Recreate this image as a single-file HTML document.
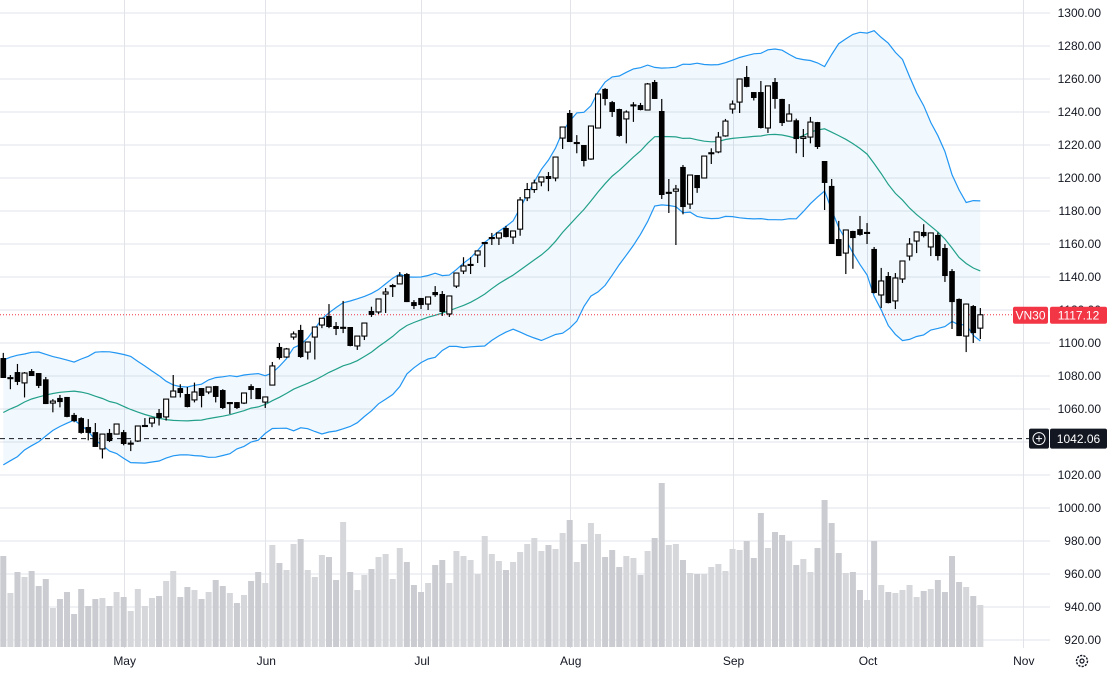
<!DOCTYPE html>
<html><head><meta charset="utf-8">
<style>
html,body{margin:0;padding:0;background:#fff;width:1108px;height:673px;overflow:hidden;font-family:"Liberation Sans",sans-serif;}
svg text{font-family:"Liberation Sans",sans-serif;}
</style></head>
<body>
<svg id="chart" width="1108" height="673" xmlns="http://www.w3.org/2000/svg"></svg>
<script>
const opens=[1090.9,1078.8,1082.4,1075.8,1083,1081.8,1078,1063.6,1066.7,1067.3,1056.4,1054.5,1049.1,1046,1035.8,1045.5,1044.8,1046,1039,1040.6,1049.7,1051.5,1057.6,1055.2,1067.3,1072.7,1069.1,1065.5,1072.7,1070.3,1073.9,1071.5,1063.6,1064.2,1063.6,1073.9,1072.7,1064.2,1074.5,1097.6,1091.5,1103.6,1107.9,1094.5,1103.6,1110.9,1116.4,1110.3,1109,1109.7,1098.2,1104.2,1119.4,1118.8,1129.7,1134.5,1135.8,1141.8,1124.8,1127.3,1123.6,1130.9,1129.7,1117.6,1134.5,1143.6,1147.3,1153.3,1160.6,1163.6,1163.6,1169.7,1164.2,1169,1188,1193,1197.6,1201.2,1200,1224.2,1239.4,1221.2,1220,1211.5,1230.3,1254,1246,1241.8,1235.8,1244,1244.2,1241.2,1258.2,1240.6,1191,1192,1206.7,1184.2,1201.8,1200,1215,1215.8,1225.5,1241.8,1246,1261.2,1252.1,1252.1,1230.3,1258.2,1247.9,1234.5,1235,1224,1224.8,1233.9,1210.3,1195.2,1163,1154.5,1167.9,1169,1166.7,1157,1129.1,1140.6,1125.5,1138.8,1152.7,1161.8,1167.3,1158.2,1165.5,1157.6,1143.6,1126.7,1104.2,1122.4,1109];
const highs=[1094,1080.6,1087.3,1082.4,1084.2,1081.8,1079.4,1066,1068.5,1067.3,1057.6,1055,1053.9,1051.5,1045,1047.9,1050.9,1047.3,1041,1049.7,1054.5,1054.5,1060,1066,1080.6,1075,1073.3,1076,1072.7,1073.3,1074,1072,1064.2,1064.2,1069.7,1075,1072.7,1067.3,1088.5,1100,1097,1107,1111,1100.6,1110,1115,1123.6,1112.7,1125.5,1109.7,1104.2,1112.1,1122,1126.7,1133.3,1135.8,1143,1142.4,1126,1127.3,1127.9,1134.5,1131.5,1128.5,1142.4,1152,1152,1155.8,1161,1166.7,1167,1171,1168,1188.5,1197,1199,1200.6,1203.6,1212.7,1231,1241.2,1226,1220,1231.5,1251,1254.5,1246.7,1242,1241,1246,1245.5,1257.6,1259.4,1247.9,1199.4,1195.8,1207.9,1201.8,1201.8,1213.3,1218,1227.9,1235.8,1247,1260,1267.9,1252.1,1258.8,1256,1260.6,1248,1244.8,1236,1229.7,1237,1234,1210.3,1199.4,1174,1168.5,1168,1177,1172.7,1158.2,1145.5,1143,1142.4,1149.7,1163.6,1167.3,1172,1167,1167,1160,1144.8,1127,1124,1123,1121.2];
const lows=[1078.8,1072,1074.5,1067,1080,1072.7,1063,1058,1061,1055,1052,1045,1041,1037,1030,1040,1044.8,1038,1034.5,1040,1049.7,1049,1050,1053,1067,1067,1061,1064,1061,1069,1064,1060,1057,1060,1063,1066,1066,1060.6,1074.5,1090,1091,1102,1091,1090,1090,1109,1109,1104.8,1106,1098,1095.8,1101.8,1115.8,1117.6,1118.2,1127.9,1135.8,1124.8,1120.6,1120.6,1120,1128,1116.4,1115.8,1133.3,1141.8,1141.8,1148.5,1146,1159.4,1159.4,1164,1160,1165,1186,1191,1195,1192,1198,1217.6,1221.8,1215,1207,1211,1230,1244,1237,1225,1221,1234,1241,1241,1247.9,1187.3,1178.8,1159.4,1178,1181.2,1191,1200,1208.5,1215,1225,1239,1239.4,1255,1247,1230,1227.3,1242,1231.5,1234.5,1215,1212.7,1221,1217.6,1180.6,1160,1152.7,1141.8,1145,1165,1160,1130,1121.2,1124,1120.6,1136.4,1150,1154.5,1164,1152.7,1150,1137,1108.5,1104.2,1094.5,1100,1102.4];
const closes=[1078.8,1079,1076.4,1081.8,1080,1074,1063,1064.8,1064.2,1055.2,1052.7,1045.5,1045.5,1037,1044.8,1040.6,1050.9,1038.8,1039.3,1049.7,1050,1054.5,1054.5,1066,1070.9,1069.7,1061.2,1070.3,1067.9,1073.3,1067.3,1060.6,1063.9,1060.6,1069.7,1071.5,1066,1067.3,1086.1,1090.9,1096.4,1105.5,1091.5,1100.6,1109.7,1115,1109.7,1108.5,1109.5,1098.2,1104.2,1112.1,1117,1126.7,1130.9,1134.8,1140.6,1124.8,1122.4,1123,1127.9,1129,1118.8,1128.5,1142.4,1146.7,1147.6,1155.8,1160.9,1163.9,1166.7,1164.2,1167.9,1186.7,1193,1197,1200.6,1199.4,1212.7,1230.9,1221.8,1221.5,1210.3,1231.5,1250.9,1247.9,1240,1225.5,1240,1244.3,1241.2,1257,1247.9,1189.7,1191.3,1193.3,1182.4,1201.8,1193.9,1213.3,1215.3,1224.8,1234.5,1244.8,1260,1255.2,1248.5,1230.3,1255.8,1247.9,1233.3,1238.8,1223.6,1225,1233.9,1218.8,1197,1160,1152.7,1168.5,1163.6,1165.5,1167,1130.3,1137.6,1124.2,1139.4,1149.7,1160,1167.3,1164.8,1166.7,1152.7,1140.6,1124.8,1104.2,1123.6,1106,1117.1];
const volumes=[91,54,75,70,76,61,68,39,48,55,33,58,41,48,49,41,55,50,36,58,41,49,51,66,76,50,60,57,48,55,67,61,54,44,52,66,75,64,102,84,77,103,108,77,70,92,90,67,125,75,57,72,78,90,93,68,99,85,62,55,64,82,87,64,96,91,87,73,111,93,86,77,85,95,103,109,96,102,98,114,127,85,103,124,113,90,97,80,91,89,72,96,109,164,102,103,87,74,73,73,80,83,76,98,97,106,89,134,99,115,112,106,82,88,75,99,147,124,94,74,75,57,47,106,62,55,54,57,62,50,56,58,67,55,91,65,60,51,42];
const priorCloses=[1036,1040,1034,1044,1048,1042,1045,1050,1047,1046,1058,1064,1068,1073,1076,1072,1078,1076,1082];
const priceTicks=[1300,1280,1260,1240,1220,1200,1180,1160,1140,1120,1100,1080,1060,1040,1020,1000,980,960,940,920];
const monthLabels=["May","Jun","Jul","Aug","Sep","Oct","Nov"];
const monthIndex=[17,37,59,80,103,122,144];
const lastPrice=1117.12;
const markPrice=1042.06;

const NS="http://www.w3.org/2000/svg";
const svg=document.getElementById('chart');
const X0=3.3, DX=7.08;
function xAt(i){return X0+i*DX;}
function yP(p){return 640-(p-920)*1.65;}
function yV(v){return 647-v;}
function mk(tag,attrs,parent){const e=document.createElementNS(NS,tag);for(const k in attrs)e.setAttribute(k,attrs[k]);(parent||svg).appendChild(e);return e;}

const grid=mk('g',{});


priceTicks.forEach(p=>{mk('line',{x1:0,x2:1050,y1:yP(p),y2:yP(p),stroke:'#e1e3e8','stroke-width':1},grid);});
monthIndex.forEach(i=>{const x=Math.round(xAt(i))+0.5;mk('line',{x1:x,x2:x,y1:0,y2:648,stroke:'#e1e3e8','stroke-width':1},grid);});

const vg=mk('g',{});


volumes.forEach((v,i)=>{
  const up=closes[i]>=opens[i];
  const r=mk('rect',{x:xAt(i)-3,y:yV(v),width:6,height:v,fill:up?'#d6d7db':'#cbccd1'},vg);
  
  
});

const all=priorCloses.concat(closes);
const up=[],mid=[],lo=[];
for(let i=0;i<closes.length;i++){
  const w=all.slice(i,i+20);
  const m=w.reduce((a,b)=>a+b,0)/w.length;
  const sd=Math.sqrt(w.reduce((a,b)=>a+(b-m)*(b-m),0)/w.length);
  mid.push(m);up.push(m+2*sd);lo.push(m-2*sd);
}
function pts(arr){return arr.map((v,i)=>xAt(i).toFixed(1)+','+yP(v).toFixed(1));}
const fillPts=pts(up).concat(pts(lo).reverse()).join(' ');
const bf=mk('polygon',{points:fillPts,fill:'rgba(33,150,243,0.06)'});


const bu=mk('polyline',{points:pts(up).join(' '),fill:'none',stroke:'#2196f3','stroke-width':1.2});


const bl=mk('polyline',{points:pts(lo).join(' '),fill:'none',stroke:'#2196f3','stroke-width':1.2});


const bm=mk('polyline',{points:pts(mid).join(' '),fill:'none',stroke:'#22a08a','stroke-width':1.2});



const dl=mk('line',{x1:0,x2:1030,y1:yP(markPrice),y2:yP(markPrice),stroke:'#131722','stroke-width':1,'stroke-dasharray':'5,4'});


const ll=mk('line',{x1:0,x2:1012,y1:yP(lastPrice),y2:yP(lastPrice),stroke:'#f23645','stroke-width':1,'stroke-dasharray':'1,2'});



const cg=mk('g',{});


closes.forEach((c,i)=>{
  const o=opens[i],x=xAt(i);
  const g=mk('g',{},cg);
  
  
  mk('line',{x1:x,x2:x,y1:yP(highs[i]),y2:yP(lows[i]),stroke:'#000','stroke-width':1.2},g);
  const t=yP(Math.max(o,c)),b=yP(Math.min(o,c));
  const h=Math.max(b-t,1);
  if(c>=o) mk('rect',{x:x-2.5,y:t,width:5,height:h,fill:'#fff',stroke:'#000','stroke-width':1.1},g);
  else mk('rect',{x:x-2.8,y:t,width:5.6,height:h,fill:'#000'},g);
});

const ax=mk('g',{});


priceTicks.forEach(p=>{
  const t=mk('text',{x:1101,y:yP(p)+4,'text-anchor':'end','font-size':12,fill:'#131722'},ax);
  t.textContent=p.toFixed(2);
  
  
});
const tx=mk('g',{});


monthLabels.forEach((m,i)=>{
  const t=mk('text',{x:xAt(monthIndex[i])+1,y:665,'text-anchor':'middle','font-size':12,fill:'#131722'},tx);
  t.textContent=m;
  
  
});

const yl=yP(lastPrice);
const tag1=mk('g',{});


mk('rect',{x:1013,y:yl-8,width:35,height:17,rx:2,fill:'#f23645'},tag1);
const t1=mk('text',{x:1030.5,y:yl+4.5,'text-anchor':'middle','font-size':12,fill:'#fff'},tag1);t1.textContent='VN30';
const tag2=mk('g',{});


mk('rect',{x:1050,y:yl-8,width:57,height:17,rx:2,fill:'#f23645'},tag2);
const t2=mk('text',{x:1078.5,y:yl+4.5,'text-anchor':'middle','font-size':12,fill:'#fff'},tag2);t2.textContent=lastPrice.toFixed(2);

const ym=yP(markPrice);
const tag3=mk('g',{});


mk('rect',{x:1029,y:ym-10,width:20,height:20,rx:2,fill:'#131722'},tag3);
mk('circle',{cx:1039,cy:ym,r:6,fill:'none',stroke:'#fff','stroke-width':1},tag3);
mk('line',{x1:1036,x2:1042,y1:ym,y2:ym,stroke:'#fff','stroke-width':1},tag3);
mk('line',{x1:1039,x2:1039,y1:ym-3,y2:ym+3,stroke:'#fff','stroke-width':1},tag3);
mk('rect',{x:1050,y:ym-10,width:57,height:20,rx:2,fill:'#131722'},tag3);
const t3=mk('text',{x:1078.5,y:ym+4.5,'text-anchor':'middle','font-size':12,fill:'#fff'},tag3);t3.textContent=markPrice.toFixed(2);

const gear=mk('g',{});


mk('circle',{cx:1082,cy:661,r:5.5,fill:'none',stroke:'#131722','stroke-width':1.4,'stroke-dasharray':'2.2,1.2'},gear);
mk('circle',{cx:1082,cy:661,r:2,fill:'none',stroke:'#131722','stroke-width':1.2},gear);
</script>
</body></html>
